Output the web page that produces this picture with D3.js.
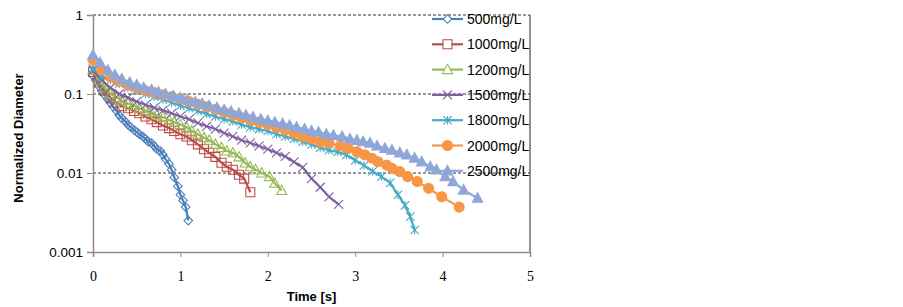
<!DOCTYPE html>
<html>
<head>
<meta charset="utf-8">
<script src="https://cdn.jsdelivr.net/npm/d3@7"></script>
<style>
  body { margin: 0; background: #fff; }
</style>
</head>
<body>
<div id="chart-area"></div>
<script>
var names = ["500mg/L", "1000mg/L", "1200mg/L", "1500mg/L", "1800mg/L", "2000mg/L", "2500mg/L"];

var t500 = [0, 0.03, 0.07, 0.10, 0.13, 0.17, 0.20, 0.23, 0.27, 0.30, 0.33, 0.37, 0.40, 0.43, 0.47, 0.50, 0.53, 0.57, 0.60, 0.63, 0.67, 0.70, 0.73, 0.77, 0.80, 0.83, 0.87, 0.90, 0.93, 0.97, 1.00, 1.03, 1.06, 1.09];
var d500 = [0.17, 0.15, 0.125, 0.11, 0.098, 0.086, 0.077, 0.069, 0.061, 0.054, 0.049, 0.045, 0.041, 0.038, 0.035, 0.033, 0.031, 0.029, 0.027, 0.025, 0.024, 0.022, 0.020, 0.019, 0.017, 0.015, 0.013, 0.011, 0.0088, 0.0068, 0.0053, 0.0045, 0.0037, 0.0025];

var t1000 = [0, 0.07, 0.13, 0.2, 0.27, 0.33, 0.4, 0.47, 0.53, 0.6, 0.67, 0.73, 0.8, 0.87, 0.93, 1.0, 1.07, 1.13, 1.2, 1.27, 1.33, 1.4, 1.47, 1.53, 1.6, 1.67, 1.73, 1.8];
var d1000 = [0.19, 0.14, 0.11, 0.09, 0.078, 0.07, 0.066, 0.061, 0.057, 0.052, 0.048, 0.044, 0.040, 0.037, 0.034, 0.031, 0.029, 0.026, 0.023, 0.020, 0.018, 0.016, 0.0135, 0.012, 0.011, 0.0095, 0.0085, 0.0057];

var t1200 = [0, 0.07, 0.13, 0.2, 0.27, 0.33, 0.4, 0.47, 0.53, 0.6, 0.67, 0.73, 0.8, 0.87, 0.93, 1.0, 1.07, 1.13, 1.2, 1.27, 1.33, 1.4, 1.47, 1.53, 1.6, 1.67, 1.74, 1.8, 1.86, 1.93, 2.02, 2.08, 2.16];
var d1200 = [0.2, 0.15, 0.12, 0.10, 0.09, 0.082, 0.076, 0.071, 0.066, 0.062, 0.058, 0.054, 0.051, 0.047, 0.044, 0.041, 0.038, 0.034, 0.031, 0.028, 0.026, 0.023, 0.021, 0.019, 0.018, 0.016, 0.0134, 0.012, 0.011, 0.010, 0.009, 0.0074, 0.006];

var t1500 = [0, 0.1, 0.2, 0.3, 0.4, 0.5, 0.6, 0.7, 0.8, 0.9, 1.0, 1.1, 1.2, 1.3, 1.4, 1.5, 1.6, 1.7, 1.8, 1.9, 2.0, 2.1, 2.2, 2.3, 2.4, 2.5, 2.6, 2.7, 2.81];
var d1500 = [0.20, 0.15, 0.12, 0.10, 0.09, 0.08, 0.073, 0.067, 0.062, 0.057, 0.052, 0.048, 0.043, 0.039, 0.036, 0.032, 0.029, 0.026, 0.024, 0.022, 0.020, 0.018, 0.0162, 0.0138, 0.0118, 0.0085, 0.0066, 0.005, 0.004];

var t1800 = [0, 0.1, 0.2, 0.3, 0.4, 0.5, 0.6, 0.7, 0.8, 0.9, 1.0, 1.1, 1.2, 1.3, 1.4, 1.5, 1.6, 1.7, 1.8, 1.9, 2.0, 2.1, 2.2, 2.3, 2.4, 2.5, 2.6, 2.7, 2.8, 2.9, 3.0, 3.1, 3.2, 3.3, 3.4, 3.49, 3.57, 3.63, 3.68];
var d1800 = [0.21, 0.17, 0.15, 0.135, 0.12, 0.11, 0.10, 0.092, 0.085, 0.078, 0.071, 0.066, 0.061, 0.056, 0.052, 0.048, 0.045, 0.041, 0.038, 0.036, 0.034, 0.031, 0.029, 0.027, 0.025, 0.023, 0.021, 0.0195, 0.0185, 0.017, 0.0145, 0.0125, 0.0105, 0.009, 0.0075, 0.0053, 0.0039, 0.0028, 0.0019];

var t2000 = [0, 0.1, 0.2, 0.3, 0.4, 0.5, 0.6, 0.7, 0.8, 0.9, 1.0, 1.1, 1.2, 1.3, 1.4, 1.5, 1.6, 1.7, 1.8, 1.9, 2.0, 2.1, 2.2, 2.3, 2.4, 2.5, 2.6, 2.7, 2.83, 2.92, 3.02, 3.11, 3.19, 3.26, 3.36, 3.42, 3.51, 3.6, 3.71, 3.84, 3.99, 4.19];
var d2000 = [0.27, 0.2, 0.165, 0.145, 0.13, 0.12, 0.11, 0.104, 0.098, 0.093, 0.087, 0.080, 0.074, 0.069, 0.064, 0.059, 0.054, 0.050, 0.047, 0.044, 0.041, 0.038, 0.035, 0.032, 0.029, 0.027, 0.0246, 0.024, 0.022, 0.0205, 0.0186, 0.017, 0.0154, 0.0139, 0.0126, 0.0115, 0.0104, 0.009, 0.0078, 0.0064, 0.005, 0.0037];

var t2500 = [0, 0.08, 0.17, 0.25, 0.33, 0.42, 0.5, 0.58, 0.67, 0.75, 0.83, 0.92, 1.0, 1.08, 1.17, 1.25, 1.33, 1.42, 1.5, 1.58, 1.67, 1.75, 1.83, 1.92, 2.0, 2.08, 2.17, 2.25, 2.33, 2.42, 2.5, 2.58, 2.67, 2.75, 2.85, 2.94, 3.02, 3.09, 3.17, 3.25, 3.34, 3.42, 3.51, 3.59, 3.68, 3.76, 3.86, 3.93, 4.03, 4.12, 4.24, 4.4];
var d2500 = [0.31, 0.25, 0.2, 0.175, 0.155, 0.14, 0.13, 0.12, 0.113, 0.106, 0.1, 0.094, 0.089, 0.084, 0.079, 0.075, 0.071, 0.067, 0.063, 0.060, 0.057, 0.054, 0.051, 0.048, 0.046, 0.044, 0.042, 0.040, 0.038, 0.036, 0.034, 0.033, 0.031, 0.030, 0.029, 0.027, 0.026, 0.025, 0.024, 0.022, 0.0205, 0.0195, 0.018, 0.017, 0.0155, 0.0139, 0.012, 0.011, 0.009, 0.0078, 0.0061, 0.0048];

var xTicks = [0, 1, 2, 3, 4, 5];
var yTicks = [0.001, 0.01, 0.1, 1];

var times = [t500, t1000, t1200, t1500, t1800, t2000, t2500];
var values = [d500, d1000, d1200, d1500, d1800, d2000, d2500];
var colors = ["#4A7EBB", "#BE4B48", "#98B954", "#7D60A0", "#46AAC5", "#F79646", "#8EA7D8"];
var shapes = ["diamond", "square", "triangle", "x", "star", "circle", "filledTriangle"];

var width = 903, height = 307;
var margin = { top: 15, right: 373, bottom: 55, left: 93 };
var innerW = width - margin.left - margin.right;
var innerH = height - margin.top - margin.bottom;

var svg = d3.select("#chart-area")
    .append("svg")
    .attr("width", width)
    .attr("height", height);

var g = svg.append("g")
    .attr("transform", `translate(${margin.left}, ${margin.top})`);

var x = d3.scaleLinear().domain([0, 5]).range([0, innerW]);
var y = d3.scaleLog().domain([0.001, 1]).range([innerH, 0]);

function markerPath(type, r) {
    if (type == "diamond") return `M0,${-r}L${r},0L0,${r}L${-r},0Z`;
    if (type == "square") return `M${-r},${-r}H${r}V${r}H${-r}Z`;
    if (type == "triangle" || type == "filledTriangle") return `M0,${-r}L${r * 0.95},${r * 0.75}L${-r * 0.95},${r * 0.75}Z`;
    if (type == "x") return `M${-r},${-r}L${r},${r}M${-r},${r}L${r},${-r}`;
    if (type == "star") return `M${-r},${-r}L${r},${r}M${-r},${r}L${r},${-r}M0,${-r}L0,${r}`;
    return d3.arc()({ innerRadius: 0, outerRadius: r, startAngle: 0, endAngle: 2 * Math.PI });
}
var markerSize = { diamond: 4.3, square: 4.5, triangle: 5.3, x: 4.5, star: 4.2, circle: 5, filledTriangle: 5.5 };

function markerFill(i) {
    var s = shapes[i];
    if (s == "circle" || s == "filledTriangle") return colors[i];
    return "none";
}

// gridlines (dashed)
g.selectAll(".grid")
    .data([0.01, 0.1, 1])
    .enter()
    .append("line")
    .attr("x1", 0)
    .attr("x2", innerW)
    .attr("y1", d => y(d))
    .attr("y2", d => y(d))
    .attr("stroke", "#333")
    .attr("stroke-width", 1)
    .attr("stroke-dasharray", "3,2");

// right border
g.append("line")
    .attr("x1", innerW).attr("x2", innerW)
    .attr("y1", 0).attr("y2", innerH)
    .attr("stroke", "#222")
    .attr("stroke-width", 1);

// axes
var yAxis = d3.axisLeft(y).tickValues(yTicks).tickSize(6).tickPadding(4).tickFormat(d => String(d));
var yG = g.append("g").call(yAxis);
yG.select(".domain").attr("stroke", "#8c8c8c").attr("stroke-width", 1.5);
yG.selectAll(".tick line").attr("stroke", "#8c8c8c");
yG.selectAll("text")
    .attr("font-family", "Liberation Sans, Arial, sans-serif")
    .attr("font-size", "13.5px")
    .attr("fill", "#000");

var xAxis = d3.axisBottom(x).tickValues(xTicks).tickSize(5).tickPadding(14).tickFormat(d3.format("d"));
var xG = g.append("g").attr("transform", `translate(0, ${innerH})`).call(xAxis);
xG.select(".domain").attr("stroke", "#8c8c8c").attr("stroke-width", 1.5);
xG.selectAll(".tick line").attr("stroke", "#8c8c8c");
xG.selectAll("text")
    .attr("font-family", "Liberation Serif, Times New Roman, serif")
    .attr("font-size", "14px")
    .attr("fill", "#000");

var line = d3.line()
    .x(d => x(d[0]))
    .y(d => y(d[1]));

names.forEach(function (name, i) {
    var pts = times[i].map((t, k) => [t, values[i][k]]);
    g.append("path")
        .datum(pts)
        .attr("fill", "none")
        .attr("stroke", colors[i])
        .attr("stroke-width", 2.2)
        .attr("d", line);
    g.selectAll(".m" + i)
        .data(pts)
        .enter()
        .append("path")
        .attr("class", "m" + i)
        .attr("transform", d => `translate(${x(d[0])}, ${y(d[1])})`)
        .attr("d", markerPath(shapes[i], markerSize[shapes[i]]))
        .attr("fill", markerFill(i))
        .attr("stroke", colors[i])
        .attr("stroke-width", 1.1);
});

// legend
var legend = svg.append("g").attr("transform", "translate(432, 19)");
names.forEach(function (name, i) {
    var row = legend.append("g").attr("transform", `translate(0, ${i * 25.3})`);
    row.append("line")
        .attr("x1", 0).attr("x2", 31)
        .attr("stroke", colors[i])
        .attr("stroke-width", 2.2);
    row.append("path")
        .attr("transform", "translate(15.5, 0)")
        .attr("d", markerPath(shapes[i], markerSize[shapes[i]]))
        .attr("fill", markerFill(i) == "none" ? "#fff" : markerFill(i))
        .attr("stroke", colors[i])
        .attr("stroke-width", 1.1);
    row.append("text")
        .attr("x", 35)
        .attr("y", 5)
        .attr("font-family", "Liberation Sans, Arial, sans-serif")
        .attr("font-size", "14px")
        .attr("fill", "#000")
        .text(name);
});

// axis titles
svg.append("text")
    .attr("x", margin.left + innerW / 2)
    .attr("y", 301)
    .attr("text-anchor", "middle")
    .attr("font-family", "Liberation Sans, Arial, sans-serif")
    .attr("font-weight", "bold")
    .attr("font-size", "13px")
    .attr("fill", "#000")
    .text("Time [s]");

svg.append("text")
    .attr("transform", "rotate(-90)")
    .attr("x", -138)
    .attr("y", 23)
    .attr("text-anchor", "middle")
    .attr("font-family", "Liberation Sans, Arial, sans-serif")
    .attr("font-weight", "bold")
    .attr("font-size", "13px")
    .attr("fill", "#000")
    .text("Normalized Diameter");
</script>
</body>
</html>
